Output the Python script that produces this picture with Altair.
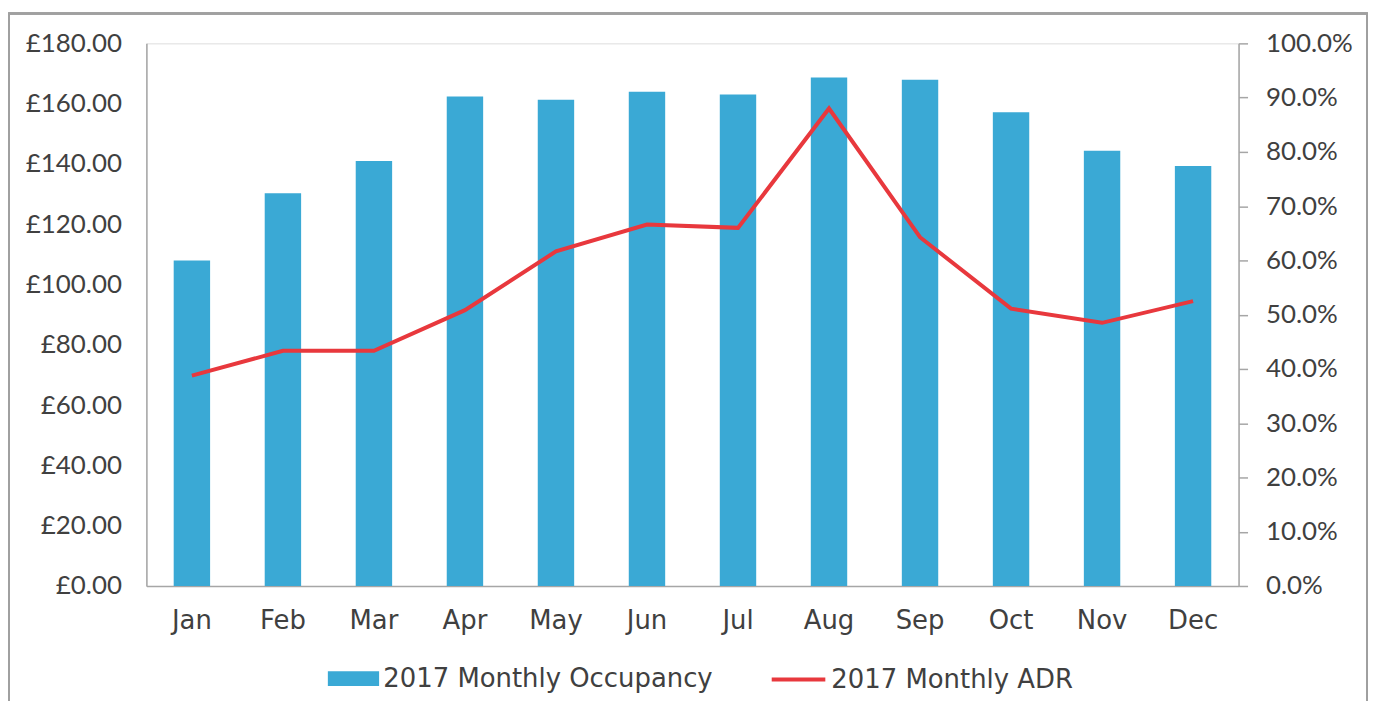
import altair as alt
import pandas as pd

months = ["Jan", "Feb", "Mar", "Apr", "May", "Jun", "Jul", "Aug", "Sep", "Oct", "Nov", "Dec"]
occupancy = [0.600, 0.724, 0.783, 0.902, 0.896, 0.911, 0.906, 0.937, 0.933, 0.873, 0.802, 0.774]
adr = [69.8, 78.0, 78.0, 91.5, 111.0, 119.9, 118.8, 158.4, 115.7, 92.0, 87.3, 94.5]

df = pd.DataFrame({
    "Month": months,
    "Occupancy": occupancy,
    "ADR": adr,
    "OccName": ["2017 Monthly Occupancy"] * 12,
    "AdrName": ["2017 Monthly ADR"] * 12,
})

NUMFONT = "Lato"
TXTFONT = "DejaVu Sans"
TXT = "#404040"
GRID = "#a6a6a6"
W, H = 1097, 545

x = alt.X("Month:N", sort=months, title=None,
          scale=alt.Scale(paddingInner=0.6, paddingOuter=0.3),
          axis=alt.Axis(labelAngle=0, ticks=False, domainColor=GRID, domainWidth=1.5,
                        labelFontSize=26, labelColor=TXT, labelFont=TXTFONT, labelPadding=22,
                        labelOverlap=False))

border = alt.Chart(df).mark_rect(filled=False, stroke="#a0a0a0", strokeWidth=1.5).encode(
    x=alt.value(-138), x2=alt.value(1226), y=alt.value(-30), y2=alt.value(720)
)

bars = alt.Chart(df).mark_bar(color="#3AA9D5").encode(
    x=x,
    y=alt.Y("Occupancy:Q", title=None,
            scale=alt.Scale(domain=[0, 1], nice=False),
            axis=alt.Axis(orient="right", format=".1%", values=[i / 10 for i in range(11)],
                          grid=False, domainColor=GRID, domainWidth=1.5, tickColor=GRID, tickWidth=1.5,
                          tickSize=9, labelPadding=18, labelFontSize=26, labelColor=TXT, labelFont=NUMFONT,
                          labelOverlap=False, labelBound=False, labelFlush=False)),
    fill=alt.Fill("OccName:N", title=None,
                  scale=alt.Scale(range=["#3AA9D5"]),
                  legend=alt.Legend(orient="none", legendX=182, legendY=612, symbolType="M-1,-0.29H1V0.29H-1Z",
                                    symbolSize=2650, symbolStrokeWidth=0, labelFontSize=26, labelColor=TXT,
                                    labelFont=TXTFONT, labelOffset=4, labelLimit=0)),
)

line = alt.Chart(df).mark_line(color="#E8383D", strokeWidth=4).encode(
    x=x,
    y=alt.Y("ADR:Q", title=None,
            scale=alt.Scale(domain=[0, 180], nice=False),
            axis=alt.Axis(orient="left", values=list(range(0, 181, 20)),
                          labelExpr="'£' + format(datum.value, '.2f')",
                          grid=False, ticks=False, domainColor=GRID, domainWidth=1.5,
                          labelPadding=25, labelFontSize=26, labelColor=TXT, labelFont=NUMFONT,
                          labelOverlap=False, labelBound=False, labelFlush=False)),
    stroke=alt.Stroke("AdrName:N", title=None,
                      scale=alt.Scale(range=["#E8383D"]),
                      legend=alt.Legend(orient="none", legendX=626, legendY=610, symbolType="stroke",
                                        symbolSize=2900, symbolStrokeWidth=4, labelFontSize=26, labelColor=TXT,
                                        labelFont=TXTFONT, labelOffset=4, labelLimit=0)),
)

chart = alt.layer(bars, line, border).resolve_scale(y="independent", fill="independent", stroke="independent").properties(
    width=W, height=H,
    autosize=alt.AutoSizeParams(type="none"),
    padding={"left": 139, "top": 34, "right": 132, "bottom": 114},
).configure_view(stroke=None).configure(background="white")

chart.save("out.html", embed_options={"renderer": "svg", "actions": False})
